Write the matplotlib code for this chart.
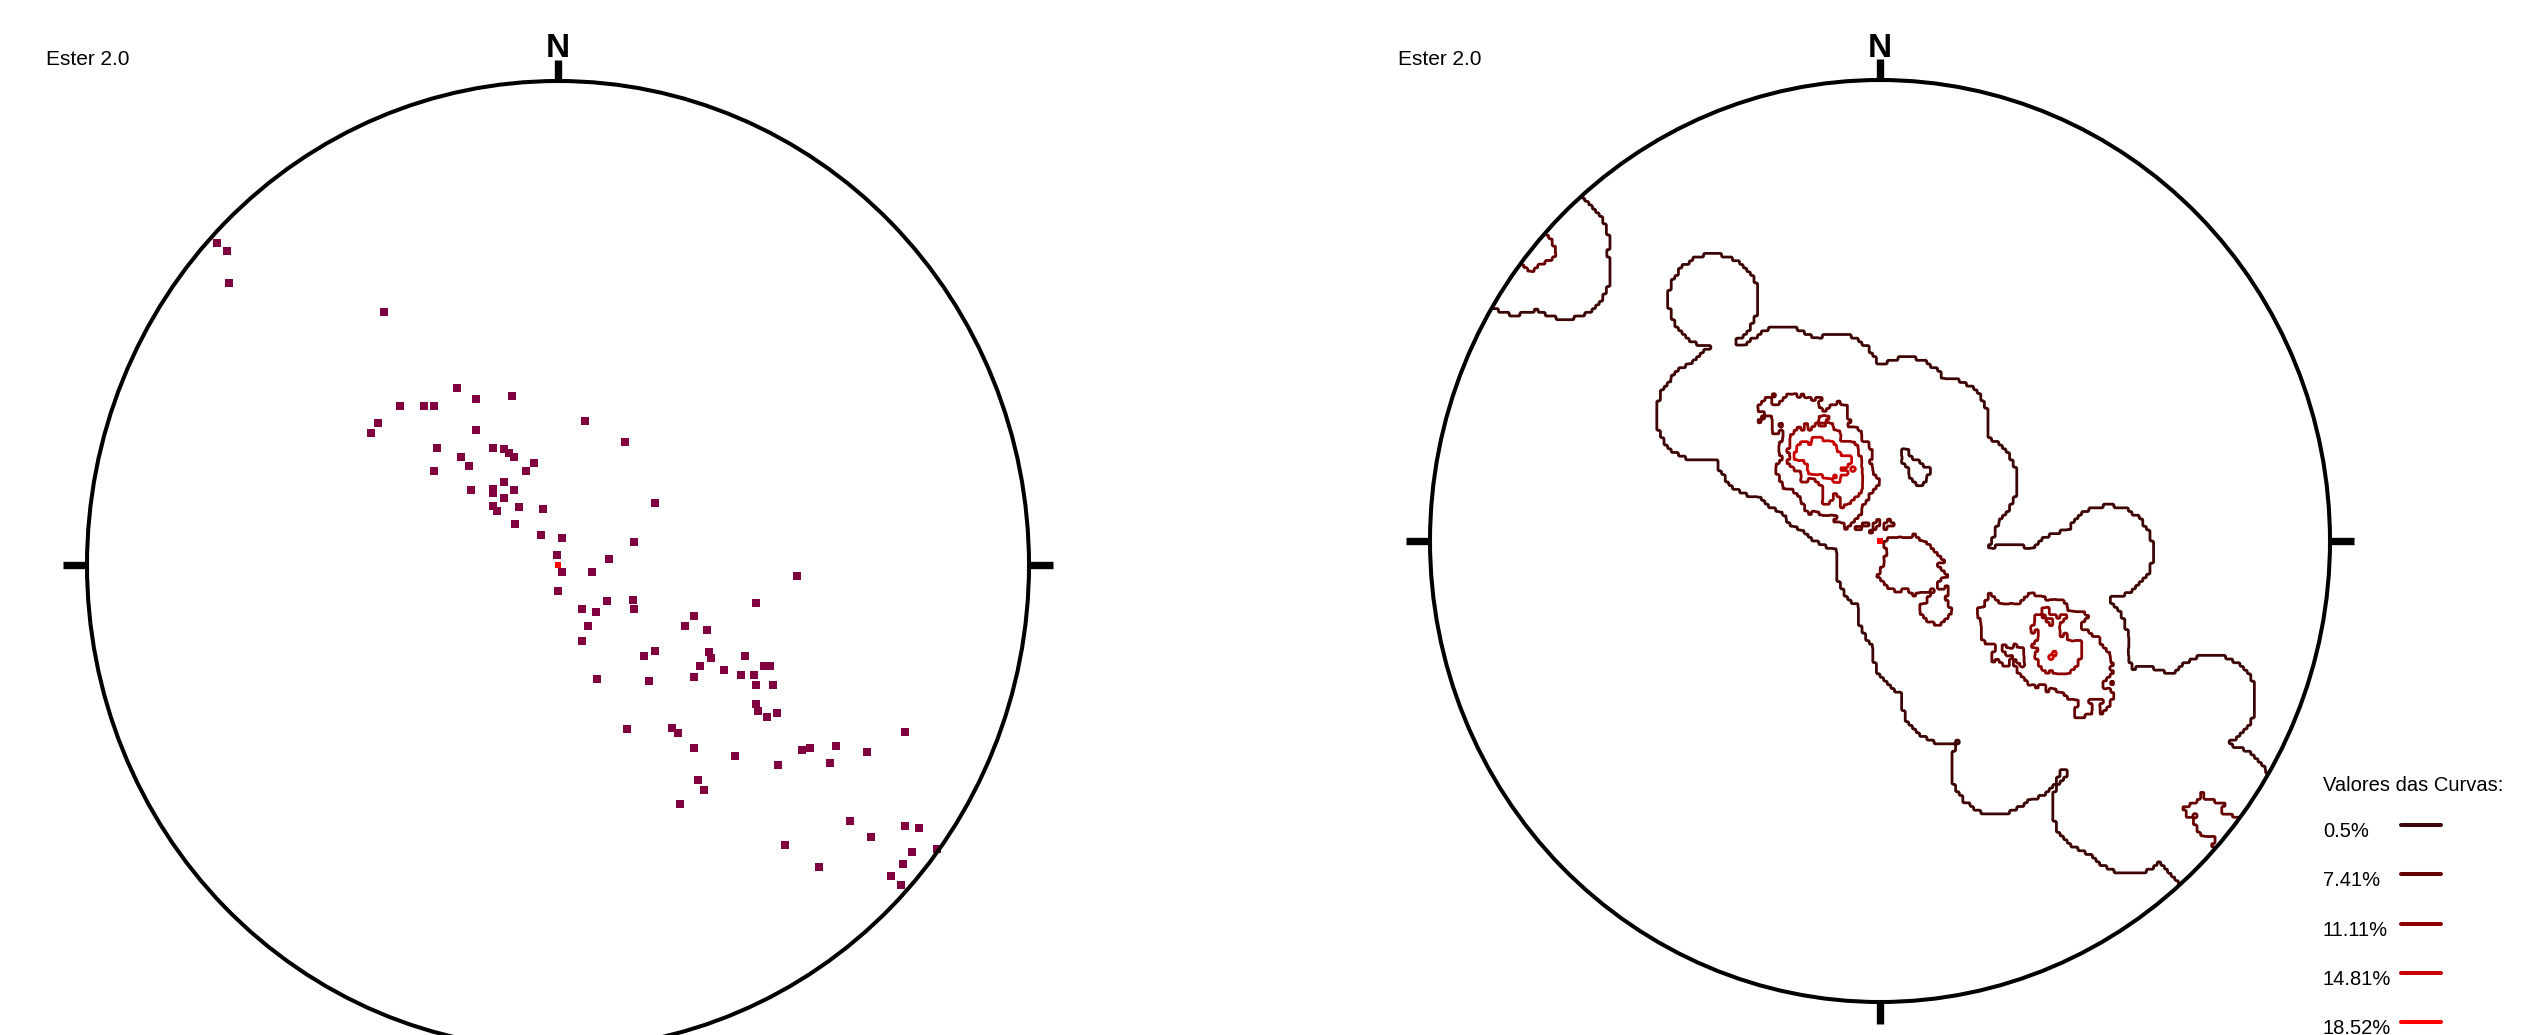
import numpy as np
import matplotlib.pyplot as plt
from matplotlib.patches import Circle

# Polos projetados na rede de Schmidt (hemisferio inferior), raio da primitiva = 1
este = [-0.724, -0.703, -0.699, -0.370,
        -0.214, -0.174, -0.098, -0.335, -0.285, -0.264, -0.382, -0.398, -0.174, 0.057,
        0.143, -0.256, -0.138, -0.115, -0.105, -0.094, -0.205, -0.189, -0.051, -0.067,
        -0.264, -0.115, -0.185, -0.139, -0.137, -0.094, -0.115, -0.139, -0.130, -0.082,
        -0.031, -0.091, 0.206, -0.036, 0.009, 0.162, -0.003, 0.009, 0.108, 0.072,
        0.001, 0.052, 0.080, 0.103, 0.159, 0.162,
        0.507, 0.420, 0.064, 0.052, 0.289, 0.270, 0.317, 0.183, 0.207, 0.321,
        0.325, 0.302, 0.289, 0.352, 0.396, 0.388, 0.416, 0.437, 0.450, 0.420,
        0.456, 0.083, 0.194, 0.420, 0.424, 0.444, 0.464, 0.147, 0.242, 0.254,
        0.289, 0.376, 0.467, 0.519, 0.535, 0.590, 0.578, 0.657, 0.297, 0.309,
        0.258,
        0.736, 0.621, 0.736, 0.767, 0.665, 0.805, 0.752, 0.732, 0.708, 0.728,
        0.483, 0.554]
norte = [0.666, 0.649, 0.582, 0.522,
         0.365, 0.344, 0.349, 0.329, 0.329, 0.329, 0.294, 0.273, 0.278, 0.298,
         0.254, 0.242, 0.242, 0.239, 0.231, 0.223, 0.223, 0.205, 0.210, 0.195,
         0.195, 0.172, 0.155, 0.157, 0.149, 0.155, 0.139, 0.121, 0.111, 0.120,
         0.116, 0.084, 0.128, 0.061, 0.056, 0.048, 0.021, -0.015, 0.012, -0.015,
         -0.054, -0.090, -0.098, -0.074, -0.072, -0.090,
         -0.023, -0.078, -0.126, -0.156, -0.106, -0.126, -0.134, -0.188, -0.177, -0.179,
         -0.193, -0.208, -0.232, -0.216, -0.188, -0.228, -0.227, -0.209, -0.209, -0.248,
         -0.248, -0.236, -0.240, -0.287, -0.302, -0.315, -0.306, -0.339, -0.337, -0.347,
         -0.378, -0.394, -0.414, -0.382, -0.378, -0.374, -0.409, -0.386, -0.445, -0.465,
         -0.493,
         -0.346, -0.528, -0.539, -0.543, -0.563, -0.587, -0.594, -0.618, -0.643, -0.662,
         -0.579, -0.623]

# curvas de isodensidade (% de polos por 1% de area)
niveis = [0.5, 7.41, 11.11, 14.81, 18.52]
cores_niveis = ['#3d0505', '#660000', '#8c0000', '#c80000', '#ff0000']
titulo_legenda = 'Valores das Curvas:'
rotulo = 'Ester 2.0'
raio_contagem = 0.1   # circulo de contagem de 1% da area

cor_polo = '#800040'
fonte = ['Liberation Sans Narrow', 'Liberation Sans', 'DejaVu Sans']

W, H = 2530, 1035
fig = plt.figure(figsize=(W / 100, H / 100), dpi=100)


def eixo_rede(cx, cy, rx, ry, L=1.12):
    ax = fig.add_axes([(cx - rx * L) / W, (H - cy - ry * L) / H,
                       2 * rx * L / W, 2 * ry * L / H])
    ax.set_xlim(-L, L)
    ax.set_ylim(-L, L)
    ax.axis('off')
    return ax


def desenha_rede(ax, rx, ry):
    prim = Circle((0, 0), 1, fill=False, ec='black', lw=2.9, zorder=4)
    ax.add_patch(prim)
    kw = dict(color='black', lw=5.3, solid_capstyle='butt', zorder=4)
    ax.plot([0, 0], [1, 1 + 21 / ry], **kw)
    ax.plot([0, 0], [-1, -1 - 22 / ry], **kw)
    ax.plot([-1, -1 - 24 / rx], [0, 0], **kw)
    ax.plot([1, 1 + 24 / rx], [0, 0], **kw)
    ax.text(0, 1.05, 'N', ha='center', va='baseline', fontsize=24,
            fontweight='bold', family='Liberation Sans')
    ax.plot(0, 0, 's', color='red', ms=4, mew=0, zorder=5)
    return prim


# rede da esquerda: polos
ax1 = eixo_rede(558, 565, 471, 484)
desenha_rede(ax1, 471, 484)
ax1.scatter(este, norte, marker='s', s=30, c=cor_polo, linewidths=0, zorder=3)

# rede da direita: contagem de polos numa grade
pts = np.column_stack([este, norte])
rho = np.hypot(pts[:, 0], pts[:, 1])
# polos perto da primitiva tambem contam do lado oposto
antip = -pts / rho[:, None] * np.sqrt(2 - rho ** 2)[:, None]
todos = np.vstack([pts, antip])

h = 0.008
g = np.arange(-1.1, 1.1 + h / 2, h)
GX, GY = np.meshgrid(g, g)
d2 = (GX[..., None] - todos[:, 0]) ** 2 + (GY[..., None] - todos[:, 1]) ** 2
contagem = (d2 <= raio_contagem ** 2).sum(axis=-1)
dens = 100.0 * contagem / len(este)

# refina em blocos para manter o aspecto em degraus da grade
k = 2
gf = (g[:, None] + (np.arange(k) - (k - 1) / 2) * h / k).ravel()
dens_f = np.kron(dens, np.ones((k, k)))

ax2 = eixo_rede(1880, 541, 450, 461)
prim2 = desenha_rede(ax2, 450, 461)
cs = ax2.contour(gf, gf, dens_f, levels=niveis, colors=cores_niveis,
                 linewidths=2.0, zorder=2)
cs.set_clip_path(prim2)

# textos e legenda
axo = fig.add_axes([0, 0, 1, 1])
axo.set_xlim(0, W)
axo.set_ylim(H, 0)
axo.axis('off')
axo.text(46, 65, rotulo, fontsize=15, family=fonte, va='baseline')
axo.text(1398, 65, rotulo, fontsize=15, family=fonte, va='baseline')
axo.text(2323, 791, titulo_legenda, fontsize=14.5, family=fonte, va='baseline')
for i, (nv, cor) in enumerate(zip(niveis, cores_niveis)):
    y = 825 + 49.25 * i
    axo.plot([2401, 2441], [y, y], color=cor, lw=2.9, solid_capstyle='round')
    axo.text(2323, y + 12, f'{nv}%', fontsize=14.5, family=fonte, va='baseline')

fig.savefig('out.png', dpi=100)
